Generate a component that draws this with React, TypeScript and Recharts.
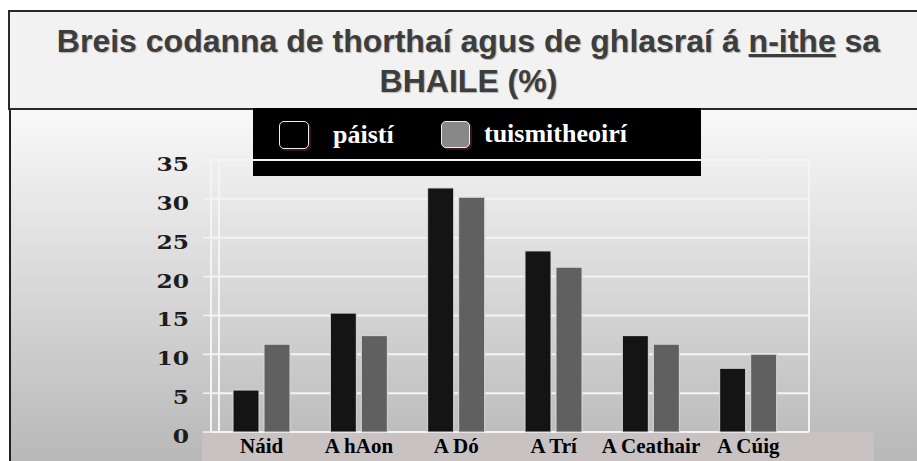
import React from 'react';
import { BarChart, Bar, XAxis, YAxis, CartesianGrid } from 'recharts';

const categories = ['Náid', 'A hAon', 'A Dó', 'A Trí', 'A Ceathair', 'A Cúig'];
const paisti = [5.4, 15.3, 31.4, 23.3, 12.4, 8.2];
const tuismitheoiri = [11.3, 12.4, 30.2, 21.2, 11.3, 10.0];
const yTicks = [0, 5, 10, 15, 20, 25, 30, 35];
const seriesNames = ['páistí', 'tuismitheoirí'];
const seriesColors = ['#141414', '#606060'];

const data = categories.map((c, i) => ({
  nombre: c,
  paisti: paisti[i],
  tuismitheoiri: tuismitheoiri[i],
}));

const YTick = (props: any) => {
  const { x, y, payload } = props;
  return (
    <g transform={`translate(${x},${y + 11})`}>
      <text
        textAnchor="end"
        transform="scale(1.3,1)"
        fontFamily="DejaVu Serif"
        fontWeight="bold"
        fontSize={18}
        fill="#1c1c1c"
      >
        {payload.value}
      </text>
    </g>
  );
};

export default function App() {
  return (
    <div style={{ position: 'absolute', left: 0, top: 0, width: 917, height: 461, overflow: 'hidden', background: '#fff' }}>
      {/* fondo degradado */}
      <div
        style={{
          position: 'absolute',
          left: 9,
          top: 108,
          width: 908,
          height: 353,
          borderLeft: '2px solid #222',
          background: 'linear-gradient(#f9f9f9, #b8b8b8)',
        }}
      />
      {/* banda de etiquetas */}
      <div style={{ position: 'absolute', left: 202, top: 432, width: 672, height: 29, background: '#c8c2c3' }} />

      {/* título */}
      <div
        style={{
          position: 'absolute',
          left: 8,
          top: 10,
          width: 919,
          height: 96,
          background: '#f2f2f2',
          border: '2px solid #2a2a2a',
        }}
      />
      <div
        style={{
          position: 'absolute',
          left: 8,
          top: 21,
          width: 921,
          textAlign: 'center',
          fontFamily: '"Liberation Sans", Arial, sans-serif',
          fontWeight: 'bold',
          fontSize: 32,
          lineHeight: '40px',
          color: '#3d3d3d',
          textShadow: '1px 1px 1px #b5b5b5',
        }}
      >
        Breis codanna de thorthaí agus de ghlasraí á <span style={{ textDecoration: 'underline' }}>n-ithe</span> sa
        <br />
        BHAILE (%)
      </div>

      {/* leyenda */}
      <div
        style={{
          position: 'absolute',
          left: 253,
          top: 108,
          width: 448,
          height: 68,
          background: '#000',
        }}
      >
        {seriesNames.map((n, i) => (
          <div
            key={n}
            style={{
              position: 'absolute',
              left: i === 0 ? 26 : 188,
              top: i === 0 ? 13 : 12,
              display: 'flex',
              alignItems: 'center',
            }}
          >
            <div
              style={{
                width: i === 0 ? 28 : 27,
                height: i === 0 ? 26 : 25,
                background: i === 0 ? '#000' : '#888',
                border: '1.5px solid #eee',
                borderRadius: 5,
                boxShadow: '2px 2px 0 #3a1414',
              }}
            />
            <span
              style={{
                marginLeft: i === 0 ? 24 : 14,
                fontFamily: '"Liberation Serif", "Times New Roman", serif',
                fontWeight: 'bold',
                fontSize: 26,
                color: '#fff',
                lineHeight: '28px',
              }}
            >
              {n}
            </span>
          </div>
        ))}
      </div>

      <div style={{ position: 'absolute', left: 0, top: 0 }}>
        <BarChart
          width={917}
          height={461}
          data={data}
          margin={{ top: 160, right: 108, left: 151, bottom: 0 }}
          barSize={26}
          barGap={5}
        >
          <CartesianGrid
            stroke="#f4f4f4"
            strokeWidth={2}
            verticalCoordinatesGenerator={({ offset }: any) => [offset.left + 8, offset.left + offset.width]}
          />
          <XAxis
            dataKey="nombre"
            height={29}
            padding={{ left: 2, right: 12 }}
            axisLine={false}
            tickLine={false}
            tickSize={0}
            tickMargin={6}
            interval={0}
            tick={{
              fontFamily: '"Liberation Serif", "Times New Roman", serif',
              fontWeight: 'bold',
              fontSize: 21,
              fill: '#000',
            }}
          />
          <YAxis
            width={60}
            domain={[0, 35]}
            ticks={yTicks}
            interval={0}
            axisLine={{ stroke: '#f4f4f4', strokeWidth: 2 }}
            tickLine={{ stroke: '#f4f4f4', strokeWidth: 1.5 }}
            tickSize={8}
            tickMargin={14}
            tick={<YTick />}
          />
          <Bar
            dataKey="paisti"
            name={seriesNames[0]}
            fill={seriesColors[0]}
            stroke="#d8d8d8"
            strokeWidth={1}
            isAnimationActive={false}
          />
          <Bar
            dataKey="tuismitheoiri"
            name={seriesNames[1]}
            fill={seriesColors[1]}
            stroke="#d8d8d8"
            strokeWidth={1}
            isAnimationActive={false}
          />
        </BarChart>
      </div>
    </div>
  );
}
